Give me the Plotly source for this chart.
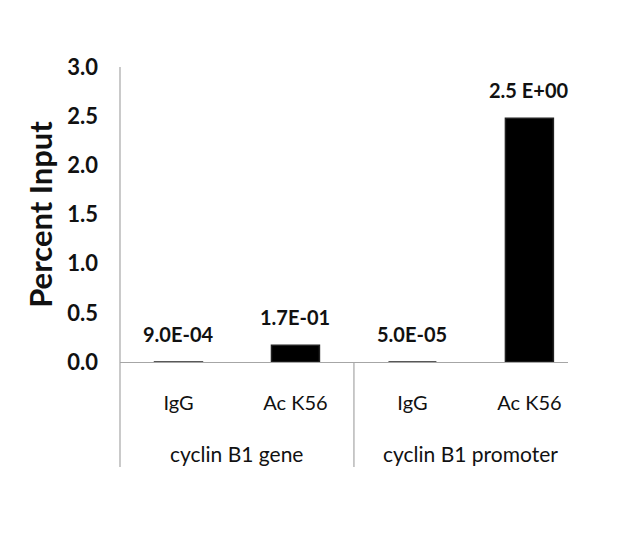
import plotly.graph_objects as go

# Datos
antibodies = ["IgG", "Ac K56", "IgG", "Ac K56"]
regions = ["cyclin B1 gene", "cyclin B1 promoter"]
percent_input = [0.0009, 0.17, 0.00005, 2.48]
value_labels = ["9.0E-04", "1.7E-01", "5.0E-05", "2.5 E+00"]
y_ticks = [0.0, 0.5, 1.0, 1.5, 2.0, 2.5, 3.0]

FONT = "Lato, Open Sans, sans-serif"
TEXT = "#111111"
AXIS = "#a6a6a6"

x_pos = list(range(len(antibodies)))

fig = go.Figure()
fig.add_trace(go.Bar(
    x=x_pos, y=percent_input, width=0.41,
    marker=dict(color="black", line=dict(color="#222222", width=1.5)),
    showlegend=False,
))

# etiquetas de valor sobre las barras
for xi, yi, lab in zip(x_pos, percent_input, value_labels):
    fig.add_annotation(x=xi, y=yi, text="<b>%s</b>" % lab, showarrow=False,
                       yanchor="middle", yshift=28,
                       font=dict(family=FONT, size=20, color=TEXT))

# etiquetas de grupo y divisores
n_per_group = len(antibodies) // len(regions)
for gi, reg in enumerate(regions):
    centro = gi * n_per_group + (n_per_group - 1) / 2
    fig.add_annotation(x=centro, y=-0.31, xref="x", yref="paper", text=reg,
                       showarrow=False, yanchor="middle",
                       font=dict(family=FONT, size=21, color=TEXT))
    if gi > 0:
        xd = gi * n_per_group - 0.5
        fig.add_shape(type="line", x0=xd, x1=xd, y0=0, y1=-0.356,
                      xref="x", yref="paper", line=dict(color=AXIS, width=1.2))

# eje y extendido hacia abajo
fig.add_shape(type="line", x0=0, x1=0, y0=-0.356, y1=1, xref="paper", yref="paper",
              line=dict(color=AXIS, width=1.2))

fig.update_layout(
    width=640, height=539,
    margin=dict(l=112, r=80, t=59, b=185),
    plot_bgcolor="white", paper_bgcolor="white",
    font=dict(family=FONT, color=TEXT),
    xaxis=dict(
        range=[-0.5, 3.33], tickvals=x_pos, ticktext=antibodies,
        showgrid=False, zeroline=False, showline=True, linecolor=AXIS, linewidth=1.2,
        ticks="", ticklabelstandoff=23,
        tickfont=dict(family=FONT, size=20, color=TEXT),
    ),
    yaxis=dict(
        range=[0, 3.0], tickvals=y_ticks, ticktext=["<b>%.1f</b>" % v for v in y_ticks],
        showgrid=False, zeroline=False, showline=False,
        ticks="", ticklabelstandoff=21,
        tickfont=dict(family=FONT, size=22, color=TEXT),
        title=dict(text="<b>Percent Input</b>", standoff=5,
                   font=dict(family=FONT, size=31, color=TEXT)),
    ),
)

fig.write_html("out.html")
